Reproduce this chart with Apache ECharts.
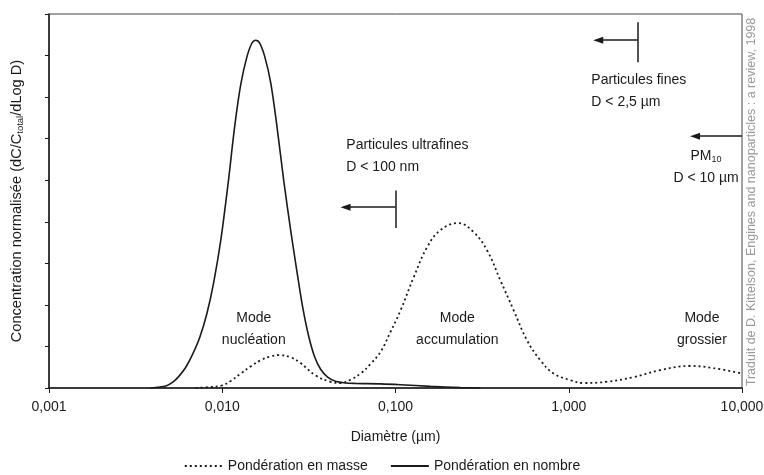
<!DOCTYPE html>
<html><head><meta charset="utf-8">
<script src="https://cdn.jsdelivr.net/npm/echarts@6/dist/echarts.min.js"></script>
<style>html,body{margin:0;padding:0;background:#fff}#c{width:764px;height:475px}</style>
</head><body><div id="c"></div>
<script>
// Diameter (µm) / normalised concentration pairs
const nombreD = [0.003871,0.004725,0.005184,0.005615,0.00616,0.006761,0.00742,0.008142,0.008934,0.009803,0.010757,0.011804,0.012782,0.013842,0.014796,0.015599,0.01645,0.017577,0.019036,0.020612,0.022623,0.024819,0.026877,0.029107,0.03152,0.03413,0.03696,0.04056,0.0451,0.05149,0.058816,0.081908,0.10686,0.1591,0.23681,0.30893];
const nombreV = [0,0.05,0.14,0.28,0.5,0.82,1.22,1.78,2.55,3.55,4.85,6.3,7.3,7.95,8.29,8.37,8.3,7.98,7.35,6.35,5.0,3.8,2.85,1.95,1.25,0.75,0.45,0.26,0.16,0.12,0.11,0.1,0.08,0.04,0.01,0];
const masseD = [0.00703,0.00835,0.00993,0.0112,0.0128,0.0146,0.0167,0.019,0.0212,0.0248,0.0283,0.0346,0.0422,0.0482,0.055,0.0629,0.0718,0.082,0.0936,0.107,0.1275,0.1523,0.1817,0.2297,0.2825,0.338,0.403,0.481,0.574,0.685,0.817,1.02,1.217,1.66,2.36,3.37,5.01,6.84,9.95];
const masseV = [0,0.02,0.06,0.17,0.35,0.52,0.67,0.76,0.79,0.74,0.6,0.3,0.15,0.12,0.2,0.35,0.58,0.87,1.35,1.87,2.67,3.39,3.8,3.97,3.75,3.31,2.59,1.87,1.15,0.67,0.35,0.19,0.12,0.15,0.26,0.43,0.53,0.48,0.35];
const xTickLabels = ['0,001','0,010','0,100','1,000','10,000'];
const seriesNames = ['Pondération en masse','Pondération en nombre'];

const FONT = "'Liberation Sans Narrow','Arial Narrow','Liberation Sans',sans-serif";
const ink = '#1a1a1a';
const chart = echarts.init(document.getElementById('c'), null, {renderer:'canvas'});
const zip = (a,b)=>a.map((d,i)=>[d,b[i]]);

const lbl = (coord, text, align, rich) => ({
  coord, value: 1, symbol:'rect', symbolSize:1, itemStyle:{color:'rgba(0,0,0,0)'},
  label:{show:true, formatter:text, position:'inside', color:ink, fontFamily:FONT, fontSize:14, lineHeight:22,
    align: align||'center', verticalAlign:'middle', rich: rich}
});
const richSub = {a:{fontFamily:FONT,fontSize:14,color:ink,lineHeight:22},s:{fontFamily:FONT,fontSize:9,color:ink,padding:[6,0,0,0]}};

chart.setOption({
  animation:false,
  textStyle:{fontFamily:FONT},
  grid:{left:49,right:22,top:14,bottom:87,show:true,borderColor:'#444',borderWidth:1,containLabel:false,outerBoundsMode:'none'},
  legend:{
    top:454, left:'center', itemWidth:38, itemGap:22,
    itemStyle:{opacity:0},
    textStyle:{fontFamily:FONT,fontSize:14,color:ink},
    data:seriesNames
  },
  xAxis:{
    type:'log', logBase:10, min:0.001, max:10,
    name:'Diamètre (µm)', nameLocation:'middle', nameGap:42,
    nameTextStyle:{fontFamily:FONT,fontSize:14,color:ink},
    axisLine:{lineStyle:{color:ink,width:1.5}},
    axisTick:{show:true,length:5,lineStyle:{color:ink}},
    minorTick:{show:false},
    splitLine:{show:false},
    axisLabel:{color:ink,fontFamily:FONT,fontSize:14,margin:12,
      formatter:v=>xTickLabels[Math.round(Math.log10(v))+3]}
  },
  yAxis:{
    type:'value', min:0, max:9, interval:1,
    name:'{a|Concentration normalisée (dC/C}{s|total}{a|/dLog D)}',
    nameLocation:'middle', nameGap:24,
    nameTextStyle:{rich:{a:{fontFamily:FONT,fontSize:14.6,color:ink},s:{fontFamily:FONT,fontSize:9.5,color:ink,padding:[6,0,0,0]}}},
    axisLine:{show:true,lineStyle:{color:ink,width:1.5}},
    axisTick:{show:true,length:4,lineStyle:{color:ink}},
    splitLine:{show:false},
    axisLabel:{show:false}
  },
  series:[
    {
      name:seriesNames[0], type:'line', data:zip(masseD,masseV), smooth:0.4, showSymbol:false, symbol:'none',
      lineStyle:{color:ink,width:1.8,type:[2,3]}, itemStyle:{color:ink},
      markPoint:{silent:true,data:[
        lbl([0.0152,1.41],'Mode\nnucléation'),
        lbl([0.2275,1.41],'Mode\naccumulation'),
        lbl([5.87,1.41],'Mode\ngrossier')
      ]}
    },
    {
      name:seriesNames[1], type:'line', data:zip(nombreD,nombreV), smooth:0.3, showSymbol:false, symbol:'none',
      lineStyle:{color:ink,width:1.6}, itemStyle:{color:ink},
      markPoint:{silent:true,data:[
        lbl([0.052,5.59],'Particules ultrafines\nD < 100 nm','left'),
        lbl([1.35,7.15],'Particules fines\nD < 2,5 µm','left'),
        lbl([6.2,5.31],'{a|PM}{s|10}\n{a|D < 10 µm}','center',richSub)
      ]},
      markLine:{silent:true,symbol:['none','none'],label:{show:false},lineStyle:{color:ink,width:1.5,type:'solid'},
        data:[
          [{coord:[0.1,4.75]},{coord:[0.1,3.85]}],
          [{coord:[0.1,4.35],symbol:'none'},{coord:[0.0515,4.35],symbol:'triangle',symbolSize:[7,10],symbolRotate:90}],
          [{coord:[2.5,8.8]},{coord:[2.5,7.84]}],
          [{coord:[2.5,8.37],symbol:'none'},{coord:[1.48,8.37],symbol:'triangle',symbolSize:[7,10],symbolRotate:90}],
          [{coord:[10,6.06],symbol:'none'},{coord:[5.36,6.06],symbol:'triangle',symbolSize:[7,10],symbolRotate:90}]
        ]}
    }
  ],
  graphic:[{
    type:'text', rotation:Math.PI/2, x:752, y:202,
    style:{text:'Traduit de D. Kittelson, Engines and nanoparticles : a review, 1998',
      fill:'#9a9a9a', font:"12.5px 'Liberation Sans',Arial,sans-serif", align:'center', verticalAlign:'middle'}
  }]
});
</script></body></html>
